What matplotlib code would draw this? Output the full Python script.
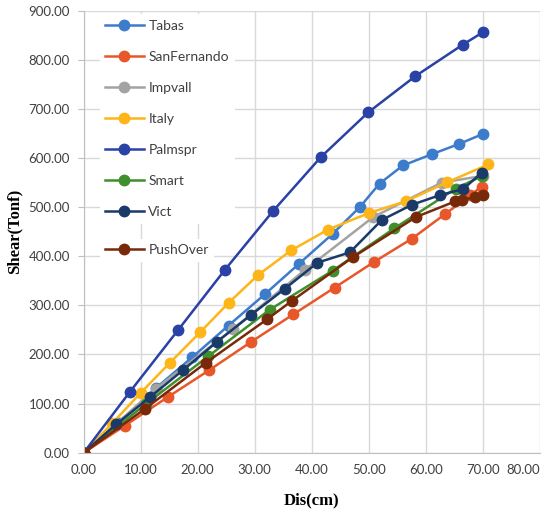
import matplotlib
matplotlib.use("Agg")
import matplotlib.pyplot as plt

tabas_x = [0, 6.1, 12.6, 19.0, 25.4, 31.8, 37.8, 43.7, 48.5, 51.9, 56.0, 61.1, 65.9, 70.0]
tabas_y = [0, 60, 131, 194, 259, 323, 385, 446, 501, 548, 585, 608, 629, 649]

sanf_x = [0, 7.2, 14.7, 22.0, 29.4, 36.8, 44.0, 51.0, 57.6, 63.4, 67.8, 69.8]
sanf_y = [0, 55, 113, 168, 226, 282, 336, 389, 436, 486, 524, 542]

impv_x = [0, 12.6, 26.2, 38.8, 50.8, 62.8, 70.1]
impv_y = [0, 130, 252, 372, 480, 550, 564]

italy_x = [0, 5.0, 10.0, 15.1, 20.4, 25.4, 30.6, 36.4, 42.8, 50.0, 56.5, 63.8, 71.0]
italy_y = [0, 60, 122, 183, 245, 305, 362, 412, 454, 488, 512, 551, 587]

palm_x = [0, 8.1, 16.5, 24.8, 33.2, 41.6, 49.9, 58.2, 66.5, 70.0]
palm_y = [0, 124, 249, 373, 492, 602, 693, 767, 831, 856]

smart_x = [0, 11.0, 21.8, 32.6, 43.7, 54.5, 65.3, 69.8]
smart_y = [0, 100, 196, 291, 371, 457, 538, 563]

vict_x = [0, 5.7, 11.6, 17.5, 23.4, 29.4, 35.3, 41.0, 46.7, 52.3, 57.6, 62.6, 66.6, 69.8]
vict_y = [0, 58, 113, 169, 226, 281, 334, 387, 408, 474, 505, 525, 537, 570]

push_x = [0, 10.7, 21.4, 32.2, 36.5, 47.2, 58.3, 65.2, 66.3, 68.6, 70.1]
push_y = [0, 89, 183, 272, 309, 398, 480, 512, 515, 520, 524]

series = [
    ("Tabas", tabas_x, tabas_y, "#3D7BCB"),
    ("SanFernando", sanf_x, sanf_y, "#E8572A"),
    ("Impvall", impv_x, impv_y, "#A3A3A3"),
    ("Italy", italy_x, italy_y, "#FDB51A"),
    ("Palmspr", palm_x, palm_y, "#2A41A6"),
    ("Smart", smart_x, smart_y, "#3F8F2C"),
    ("Vict", vict_x, vict_y, "#1A3A6A"),
    ("PushOver", push_x, push_y, "#78290A"),
]

x_ticks = [0, 10, 20, 30, 40, 50, 60, 70, 80]
y_ticks = [0, 100, 200, 300, 400, 500, 600, 700, 800, 900]

fig = plt.figure(figsize=(5.44, 5.15), dpi=100)
ax = fig.add_axes([0.154, 0.121, 0.838, 0.858])

handles = []
for name, xs, ys, c in series:
    h, = ax.plot(xs, ys, color=c, lw=1.8, marker="o", ms=7.5, label=name)
    handles.append(h)

ax.set_xlim(0, 80)
ax.set_ylim(0, 900)
ax.set_xticks(x_ticks)
ax.set_yticks(y_ticks)
ax.set_xticklabels([f"{v:.2f}" for v in x_ticks])
ax.set_yticklabels([f"{v:.2f}" for v in y_ticks])
for lab in ax.get_xticklabels() + ax.get_yticklabels():
    lab.set_fontfamily(["Lato", "DejaVu Sans"])
    lab.set_fontsize(9.5)
    lab.set_color("#404040")
ax.get_xticklabels()[-1].set_horizontalalignment("right")
ax.tick_params(axis="y", length=4, color="#BFBFBF", pad=6)
ax.tick_params(axis="x", length=0, pad=8)
ax.grid(True, color="#D9D9D9", lw=1)
ax.set_axisbelow(True)
for s in ["top", "right"]:
    ax.spines[s].set_visible(False)
ax.spines["left"].set_color("#BFBFBF")
ax.spines["bottom"].set_color("#BFBFBF")

ax.set_xlabel("Dis(cm)", fontfamily="Liberation Serif", fontweight="bold", fontsize=12, labelpad=12)
ax.set_ylabel("Shear(Tonf)", fontfamily="Liberation Serif", fontweight="bold", fontsize=12)
ax.yaxis.set_label_coords(-0.135, 0.5)

leg_kw = dict(frameon=True, facecolor="white", edgecolor="none", framealpha=1, fancybox=False,
              prop={"family": ["Lato", "DejaVu Sans"], "size": 10},
              handlelength=2.75, labelspacing=1.37, handletextpad=0.35, borderpad=0.4)
leg1 = ax.legend(handles=handles[:7], loc="upper left", bbox_to_anchor=(0.02, 1.008), **leg_kw)
for t in leg1.get_texts():
    t.set_color("#404040")
ax.add_artist(leg1)
leg2 = ax.legend(handles=handles[7:], loc="upper left", bbox_to_anchor=(0.02, 0.50), **leg_kw)
for t in leg2.get_texts():
    t.set_color("#404040")

fig.savefig("out.png", dpi=100)
